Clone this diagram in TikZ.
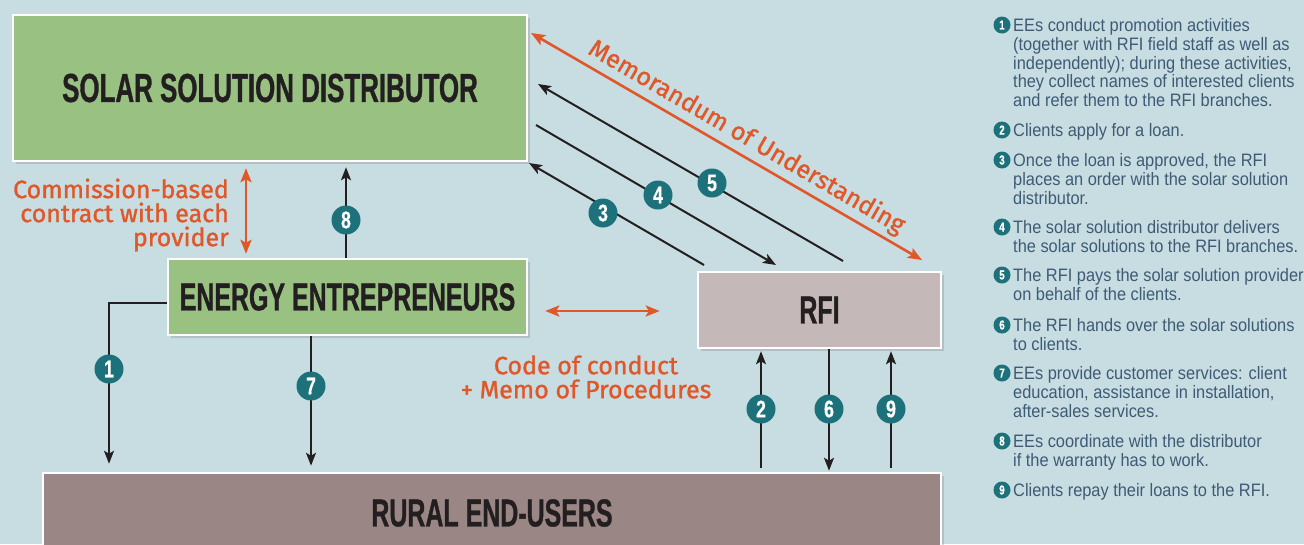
\documentclass[tikz,border=0pt]{standalone}
\usepackage{fontspec}
\setmainfont{Liberation Sans}
\newfontfamily\titlefont{Liberation Sans}[FakeStretch=0.64,FakeBold=0.8]
\newfontfamily\legfont{Liberation Sans}[FakeStretch=0.91]
\newfontfamily\numfont{Liberation Sans}[FakeStretch=0.74,FakeBold=0.5]
\newfontfamily\orfont{Fira Sans}[FakeBold=1.2]
\usetikzlibrary{arrows.meta,shadows}
\definecolor{bg}{HTML}{C8DDE1}
\definecolor{greenbox}{HTML}{98C182}
\definecolor{rfic}{HTML}{C5B8B8}
\definecolor{ruralc}{HTML}{9B8686}
\definecolor{tealc}{HTML}{1D717A}
\definecolor{orng}{HTML}{E0572A}
\definecolor{ink}{HTML}{231F20}
\definecolor{legtext}{HTML}{3E5B76}
\tikzset{
  box/.style={draw=white, line width=2.5pt, inner sep=0pt, text=ink,
    font=\titlefont\bfseries\fontsize{39}{39}\selectfont,
    drop shadow={shadow xshift=3pt, shadow yshift=-3pt, opacity=0.3}},
  arr/.style={draw=ink, line width=2pt, -{Stealth[length=13pt,width=10pt,inset=3pt]}},
  oarr/.style={draw=orng, line width=2.6pt, {Stealth[length=14pt,width=11pt,inset=3pt]}-{Stealth[length=14pt,width=11pt,inset=3pt]}},
  numc/.style={circle, fill=tealc, text=white, minimum size=29pt, inner sep=0pt,
    font=\numfont\bfseries\fontsize{24}{24}\selectfont},
  legc/.style={circle, fill=tealc, text=white, minimum size=17pt, inner sep=0pt,
    font=\numfont\bfseries\fontsize{13}{13}\selectfont},
  legt/.style={anchor=base west, inner sep=0pt, align=left, text=legtext,
    font=\legfont\fontsize{18}{18.8}\selectfont},
  otext/.style={text=orng, inner sep=0pt, font=\orfont\fontsize{25}{24}\selectfont},
}
\begin{document}
\begin{tikzpicture}[x=1pt,y=-1pt]
\useasboundingbox (0,0) rectangle (1304,544);
\clip (0,0) rectangle (1304,544);
\fill[bg] (0,0) rectangle (1304,544);

% boxes
\node[box, fill=greenbox, minimum width=514pt, minimum height=146pt,
  font=\titlefont\bfseries\fontsize{40.5}{40.5}\selectfont] (ssd) at (270,88) {SOLAR SOLUTION DISTRIBUTOR};
\node[box, fill=greenbox, minimum width=359pt, minimum height=76pt] (ee) at (347.5,297) {ENERGY ENTREPRENEURS};
\node[box, fill=rfic, minimum width=243pt, minimum height=76pt] (rfi) at (819.5,310) {RFI};
\node[box, fill=ruralc, minimum width=898pt, minimum height=80pt] (rural) at (492,513) {RURAL END-USERS};

% helper coordinates
\coordinate (x1) at (109,0);
\coordinate (x7) at (311,0);
\coordinate (x8) at (346,0);
\coordinate (xo) at (246,0);
\coordinate (x2) at (761,0);
\coordinate (x6) at (829,0);
\coordinate (x9) at (891,0);
\coordinate (y1) at (0,303);
\coordinate (yo) at (0,311);
\coordinate (t5) at (843,261);
\coordinate (h5) at (538,84);
\coordinate (t4) at (536,125);
\coordinate (h4) at (776,265);
\coordinate (t3) at (704,265);
\coordinate (h3) at (529,163);
\coordinate (mA) at (531,33);
\coordinate (mB) at (922,260);

% orange relations
\draw[oarr, shorten <=6pt, shorten >=4pt] (ssd.south -| xo) -- (ee.north -| xo);
\draw[oarr, shorten <=17pt, shorten >=37pt] (ee.east |- yo) -- (rfi.west |- yo);
\draw[oarr] (mA) -- (mB);

\node[otext, align=right, anchor=east] (comm) at (229,215) {Commission-based\\contract with each\\provider};
\node[otext, align=center] (code) at (586,377) {Code of conduct\\+ Memo of Procedures};
\node[otext, rotate=-30.1] (mou) at (746.5,137.5) {Memorandum of Understanding};

% black flows
\draw[arr, shorten >=5pt] (ee.north -| x8) -- (ssd.south -| x8);
\draw[arr, shorten >=8pt] (ee.west |- y1) -| (rural.north -| x1);
\draw[arr, shorten >=6pt] (ee.south -| x7) -- (rural.north -| x7);
\draw[arr, shorten <=4pt, shorten >=2pt] (rural.north -| x2) -- (rfi.south -| x2);
\draw[arr, shorten >=1pt] (rfi.south -| x6) -- (rural.north -| x6);
\draw[arr, shorten <=4pt, shorten >=2pt] (rural.north -| x9) -- (rfi.south -| x9);
\draw[arr] (t5) -- (h5);
\draw[arr] (t4) -- (h4);
\draw[arr] (t3) -- (h3);

% number circles
\node[numc] (n1) at (109,369) {1};
\node[numc] (n2) at (761,409) {2};
\node[numc] (n3) at (603,213) {3};
\node[numc] (n4) at (658,195) {4};
\node[numc] (n5) at (712,183) {5};
\node[numc] (n6) at (829,409) {6};
\node[numc] (n7) at (311,386) {7};
\node[numc] (n8) at (346,220) {8};
\node[numc] (n9) at (891,409) {9};

% legend (base anchor = last line)
\node[legc] (c1) at (1002,25) {1};
\node[legt] (l1) at (1013,106.7) {EEs conduct promotion activities\\(together with RFI field staff as well as\\independently); during these activities,\\they collect names of interested clients\\and refer them to the RFI branches.};
\node[legc] (c2) at (1002,130) {2};
\node[legt] (l2) at (1013,136.5) {Clients apply for a loan.};
\node[legc] (c3) at (1002,160) {3};
\node[legt] (l3) at (1013,204.1) {Once the loan is approved, the RFI\\places an order with the solar solution\\distributor.};
\node[legc] (c4) at (1002,227) {4};
\node[legt] (l4) at (1013,252.3) {The solar solution distributor delivers\\the solar solutions to the RFI branches.};
\node[legc] (c5) at (1002,275) {5};
\node[legt] (l5) at (1013,300.3) {The RFI pays the solar solution provider\\on behalf of the clients.};
\node[legc] (c6) at (1002,325) {6};
\node[legt] (l6) at (1013,350.3) {The RFI hands over the solar solutions\\to clients.};
\node[legc] (c7) at (1002,373) {7};
\node[legt] (l7) at (1013,417.1) {EEs provide customer services: client\\education, assistance in installation,\\after-sales services.};
\node[legc] (c8) at (1002,441) {8};
\node[legt] (l8) at (1013,466.3) {EEs coordinate with the distributor\\if the warranty has to work.};
\node[legc] (c9) at (1002,490) {9};
\node[legt] (l9) at (1013,496.5) {Clients repay their loans to the RFI.};
\end{tikzpicture}
\end{document}
